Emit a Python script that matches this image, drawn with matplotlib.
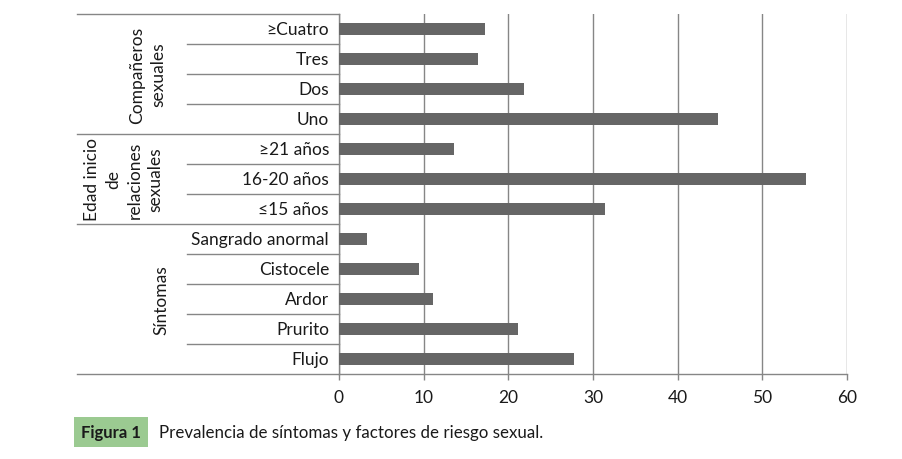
import matplotlib
matplotlib.use("Agg")
import matplotlib.pyplot as plt
import matplotlib.transforms as mtransforms

plt.rcParams['font.family'] = ['Lato', 'DejaVu Sans']

# categories top to bottom
labels = ["≥Cuatro", "Tres", "Dos", "Uno",
          "≥21 años", "16-20 años", "≤15 años",
          "Sangrado anormal", "Cistocele", "Ardor", "Prurito", "Flujo"]
values = [17.2, 16.4, 21.9, 44.8,
          13.6, 55.1, 31.4,
          3.3, 9.4, 11.1, 21.1, 27.7]
groups = ["Compañeros\nsexuales", "Edad inicio\nde\nrelaciones\nsexuales", "Síntomas"]
group_sizes = [4, 3, 5]
xticks = [0, 10, 20, 30, 40, 50, 60]

W, H = 902, 460
FS = 12.5
fig = plt.figure(figsize=(W / 100, H / 100), dpi=100)
ax = fig.add_axes([339 / W, 1 - 375 / H, (847 - 339) / W, (375 - 15) / H])

gray = "#868686"
ypos = list(range(len(labels)))
ax.barh(ypos, values, height=0.43, color="#666666", zorder=3)

ax.set_xlim(0, 60)
ax.set_ylim(len(labels) - 0.5, -0.5)
ax.set_xticks(xticks)
ax.set_xticklabels([str(t) for t in xticks], fontsize=FS, color="#1a1a1a")
ax.tick_params(axis="x", length=4, color=gray, width=1, pad=7)
ax.set_yticks([])
ax.grid(axis="x", color=gray, linewidth=1, zorder=0)
for s in ["top", "right"]:
    ax.spines[s].set_visible(False)
for s in ["left", "bottom"]:
    ax.spines[s].set_color(gray)
    ax.spines[s].set_linewidth(1)

trans = mtransforms.blended_transform_factory(fig.transFigure, ax.transData)

# category labels
for y, lab in zip(ypos, labels):
    ax.text(329 / W, y, lab, transform=trans, ha="right", va="center",
            fontsize=FS, color="#1a1a1a")

# separators
boundaries_group = [-0.5]
acc = -0.5
for n in group_sizes:
    acc += n
    boundaries_group.append(acc)
for b in range(len(labels) + 1):
    yb = b - 0.5
    x0 = 77 if yb in boundaries_group else 187
    ax.plot([x0 / W, 339 / W], [yb, yb], transform=trans, color=gray,
            linewidth=1, clip_on=False)

# group labels
group_x = [148, 124, 161]
start = -0.5
for g, n, gx in zip(groups, group_sizes, group_x):
    yc = start + n / 2
    ax.text(gx / W, yc, g, transform=trans, rotation=90, ha="center",
            va="center", fontsize=FS, color="#1a1a1a", linespacing=1.4,
            multialignment="center")
    start += n

# caption
fig.text(111 / W, 1 - 433 / H, "Figura 1", ha="center", va="center",
         fontsize=12, fontweight="bold", color="#1a1a1a",
         bbox=dict(boxstyle="square,pad=0.4", facecolor="#9bca91",
                   edgecolor="none"))
fig.text(159 / W, 1 - 433 / H,
         "Prevalencia de síntomas y factores de riesgo sexual.",
         ha="left", va="center", fontsize=12.2, color="#1a1a1a")

fig.savefig("out.png", dpi=100)
